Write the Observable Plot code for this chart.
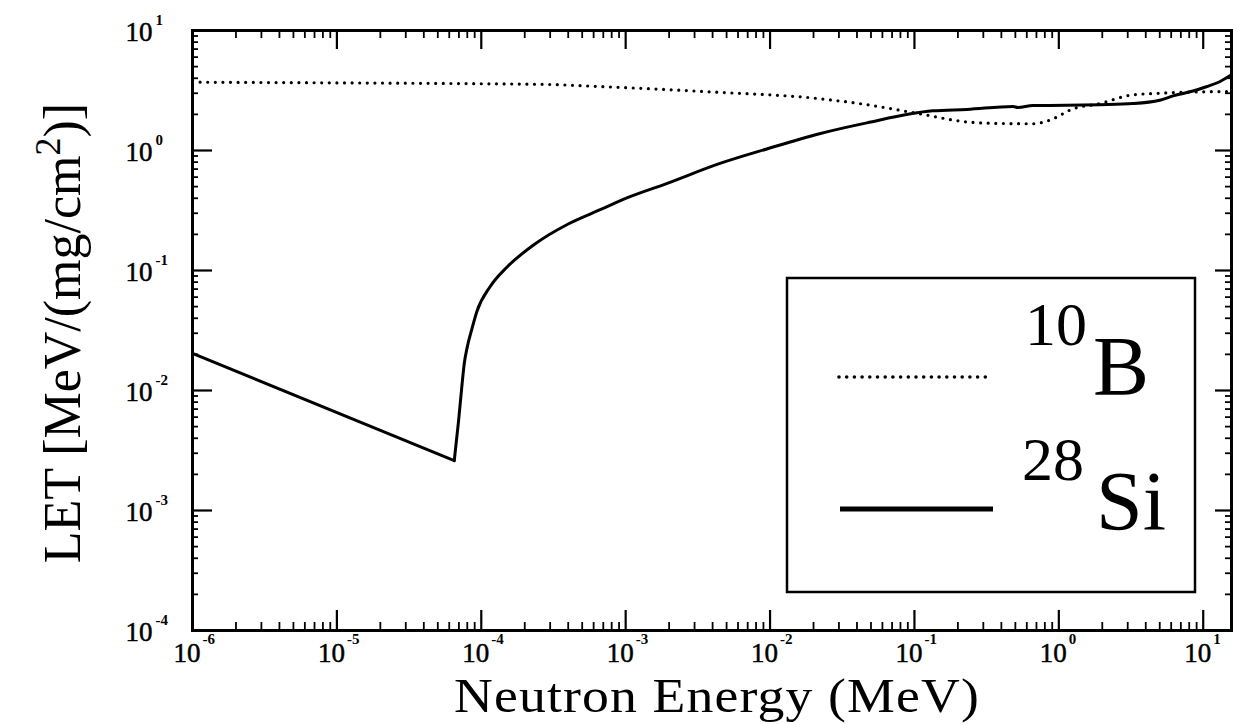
<!DOCTYPE html>
<html>
<head>
<meta charset="utf-8">
<script src="https://cdn.jsdelivr.net/npm/d3@7"></script>
<script src="https://cdn.jsdelivr.net/npm/@observablehq/plot@0.6"></script>
<style>
  html, body { margin: 0; padding: 0; background: #fff; }
  #chart svg { display: block; }
</style>
</head>
<body>
<div id="chart"></div>
<script>
// ---- data ----
const boronEnergy = [1e-6, 1e-5, 1e-4, 2.9e-4, 6.7e-4, 3.85e-3, 0.0222, 0.0468, 0.109, 0.231, 0.391, 0.661, 0.867, 1.25, 1.92, 3.25, 5.0, 7.2, 15.7];
const boronLET    = [3.71, 3.66, 3.6, 3.55, 3.41, 3.08, 2.7, 2.41, 2.02, 1.73, 1.68, 1.67, 1.79, 2.22, 2.46, 2.91, 3.0, 3.06, 3.1];

const siliconEnergy = [1e-6, 6.5e-5, 6.97e-5, 7.35e-5, 7.62e-5, 8.0e-5, 8.62e-5, 9.31e-5, 1.15e-4, 1.51e-4, 2.3e-4, 4.0e-4, 6.67e-4, 1.05e-3, 1.92e-3, 4.5e-3, 9.5e-3, 0.022, 0.0468, 0.134, 0.231, 0.482, 0.521, 0.66, 1.13, 1.92, 3.25, 5.0, 6.18, 8.5, 10.5, 13.0, 15.6];
const siliconLET    = [0.0204, 0.0026, 0.00566, 0.0111, 0.0167, 0.0231, 0.0327, 0.0453, 0.0732, 0.107, 0.163, 0.244, 0.321, 0.408, 0.53, 0.78, 1.03, 1.38, 1.7, 2.14, 2.2, 2.33, 2.28, 2.37, 2.38, 2.41, 2.46, 2.62, 2.85, 3.13, 3.4, 3.74, 4.25];

const xMajorTicks = [1e-6, 1e-5, 1e-4, 1e-3, 1e-2, 1e-1, 1, 10];
const xExponents  = ["-6", "-5", "-4", "-3", "-2", "-1", "0", "1"];
const yMajorTicks = [1e-4, 1e-3, 1e-2, 1e-1, 1, 10];
const yExponents  = ["-4", "-3", "-2", "-1", "0", "1"];

const legendMass    = ["10", "28"];
const legendSymbol  = ["B", "Si"];
const xTitle = "Neutron Energy (MeV)";
const yTitleMain = "LET [MeV/(mg/cm";
const yTitleSup = "2";
const yTitleEnd = ")]";

const xDomain = [1e-6, 15.7];
const yDomain = [1e-4, 10];

// ---- layout ----
const W = 1233, H = 724;
const mL = 192, mR = 2, mT = 30, mB = 94;
const fw = W - mL - mR, fh = H - mT - mB;
const serif = "'Liberation Serif', 'Times New Roman', serif";

function minorTicks(domain) {
  const out = [];
  const k0 = Math.floor(Math.log10(domain[0])), k1 = Math.ceil(Math.log10(domain[1]));
  for (let k = k0; k <= k1; k++) for (let m = 2; m <= 9; m++) {
    const v = m * Math.pow(10, k);
    if (v > domain[0] && v < domain[1]) out.push(v);
  }
  return out;
}
const xMinor = minorTicks(xDomain);
const yMinor = minorTicks(yDomain);

const boron = boronEnergy.map((e, i) => ({e, v: boronLET[i]}));
const silicon = siliconEnergy.map((e, i) => ({e, v: siliconLET[i]}));

const labelStyle = {fill: "#000", stroke: "#000", strokeWidth: 0.5};

const plot = Plot.plot({
  width: W, height: H,
  marginLeft: mL, marginRight: mR, marginTop: mT, marginBottom: mB,
  style: {fontFamily: serif, background: "#fff", color: "#000"},
  x: {type: "log", domain: xDomain, axis: null},
  y: {type: "log", domain: yDomain, axis: null},
  marks: [
    // ticks (inward)
    Plot.tickX(xMajorTicks, {x: d => d, insetTop: fh - 20, stroke: "#000", strokeWidth: 2.2}),
    Plot.tickX(xMinor, {x: d => d, insetTop: fh - 8, stroke: "#000", strokeWidth: 1.8}),
    Plot.tickX(xMajorTicks, {x: d => d, insetBottom: fh - 19, stroke: "#000", strokeWidth: 2.2}),
    Plot.tickX(xMinor, {x: d => d, insetBottom: fh - 8, stroke: "#000", strokeWidth: 1.8}),
    Plot.tickY(yMajorTicks, {y: d => d, insetRight: fw - 20, stroke: "#000", strokeWidth: 2.2}),
    Plot.tickY(yMinor, {y: d => d, insetRight: fw - 6, stroke: "#000", strokeWidth: 1.8}),
    Plot.tickY(yMajorTicks, {y: d => d, insetLeft: fw - 16, stroke: "#000", strokeWidth: 2.2}),
    Plot.tickY(yMinor, {y: d => d, insetLeft: fw - 6, stroke: "#000", strokeWidth: 1.8}),
    // tick labels
    Plot.text(xMajorTicks, {x: d => d, frameAnchor: "bottom", text: () => "10", textAnchor: "end", lineAnchor: "bottom", dx: 8, dy: 31, fontSize: 27, ...labelStyle}),
    Plot.text(xMajorTicks, {x: d => d, frameAnchor: "bottom", text: (d, i) => xExponents[i], textAnchor: "start", lineAnchor: "bottom", dx: 10, dy: 13, fontSize: 15, fontWeight: "bold", fill: "#000"}),
    Plot.text(yMajorTicks, {y: d => d, frameAnchor: "left", text: () => "10", textAnchor: "end", lineAnchor: "bottom", dx: -40, dy: 10, fontSize: 27, ...labelStyle}),
    Plot.text(yMajorTicks, {y: d => d, frameAnchor: "left", text: (d, i) => yExponents[i], textAnchor: "start", lineAnchor: "bottom", dx: -37, dy: -6, fontSize: 15, fontWeight: "bold", fill: "#000"}),
    // series
    Plot.line(boron, {x: "e", y: "v", curve: "monotone-x", stroke: "#000", strokeWidth: 3.2, strokeDasharray: "0,7.6", strokeLinecap: "round"}),
    Plot.line(silicon, {filter: (d, i) => i <= 1, x: "e", y: "v", stroke: "#000", strokeWidth: 3, strokeLinejoin: "miter"}),
    Plot.line(silicon, {filter: (d, i) => i >= 1, x: "e", y: "v", curve: "monotone-x", stroke: "#000", strokeWidth: 3}),
    Plot.frame({stroke: "#000", strokeWidth: 3})
  ]
});

document.getElementById("chart").appendChild(plot);

// ---- titles and legend (drawn in pixel space) ----
const svg = d3.select(plot);

svg.append("text")
  .attr("transform", "translate(717,712) scale(1.12,1)")
  .attr("text-anchor", "middle")
  .style("font-family", serif).style("font-size", "48px").style("letter-spacing", "1px").attr("fill", "#000")
  .text(xTitle);

const yt = svg.append("text")
  .attr("transform", "translate(80,333) rotate(-90)")
  .attr("text-anchor", "middle")
  .style("font-family", serif).style("font-size", "52px").attr("fill", "#000");
yt.append("tspan").text(yTitleMain);
yt.append("tspan").attr("dy", -20).style("font-size", "36px").text(yTitleSup);
yt.append("tspan").attr("dy", 20).text(yTitleEnd);

const lg = svg.append("g").attr("text-anchor", "start");
lg.append("rect").attr("x", 787).attr("y", 278).attr("width", 408).attr("height", 314)
  .attr("fill", "#fff").attr("stroke", "#000").attr("stroke-width", 2.5);
lg.append("line").attr("x1", 839).attr("x2", 992).attr("y1", 377).attr("y2", 377)
  .attr("stroke", "#000").attr("stroke-width", 3.6).attr("stroke-dasharray", "0,7.7").attr("stroke-linecap", "round");
lg.append("line").attr("x1", 840).attr("x2", 993).attr("y1", 509).attr("y2", 509)
  .attr("stroke", "#000").attr("stroke-width", 5);
const rows = [{mx: 1025, my: 345, sx: 1093, sy: 395}, {mx: 1022, my: 480, sx: 1096, sy: 530}];
rows.forEach((r, i) => {
  lg.append("text").attr("x", r.mx).attr("y", r.my).attr("text-anchor", "start")
    .style("font-family", serif).style("font-size", "62px").attr("fill", "#000").text(legendMass[i]);
  lg.append("text").attr("x", r.sx).attr("y", r.sy).attr("text-anchor", "start")
    .style("font-family", serif).style("font-size", "84px").attr("fill", "#000").text(legendSymbol[i]);
});
</script>
</body>
</html>
